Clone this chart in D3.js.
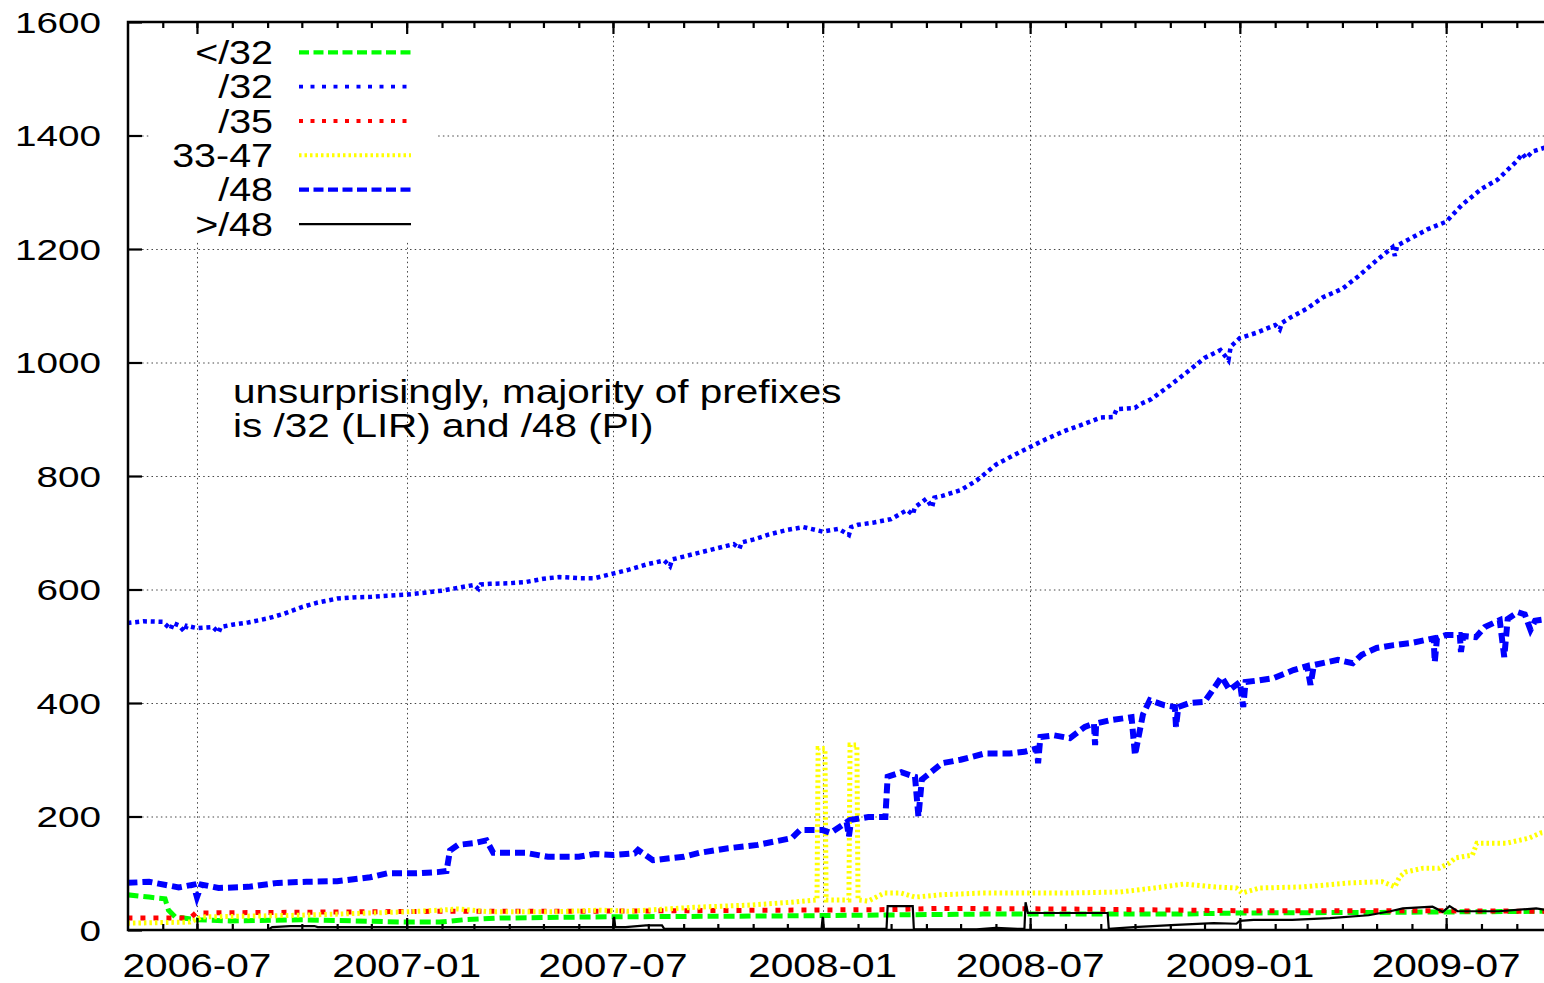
<!DOCTYPE html>
<html>
<head>
  <meta charset="UTF-8">
  <title>Prefix length counts</title>
  <script src="https://cdn.jsdelivr.net/npm/d3@7"></script>
  <style>
    body { margin: 0; background: #fff; }
    svg { display: block; }
    text { font-family: "Liberation Sans", Arial, sans-serif; fill: #000; }
  </style>
</head>
<body>
  <svg id="chart" width="1544" height="983"></svg>
  <script>
    // values, [date, count]
    const lessThan32 = [
      ['2006-05-01', 62], ['2006-05-20', 58], ['2006-06-03', 55], ['2006-06-06', 35], ['2006-06-12', 23],
      ['2006-07-01', 18], ['2006-07-30', 16], ['2006-09-30', 18], ['2007-01-01', 14], ['2007-01-30', 14],
      ['2007-02-20', 18], ['2007-03-24', 21], ['2007-06-10', 23], ['2007-12-10', 25], ['2008-05-20', 28],
      ['2008-11-06', 28], ['2009-01-01', 30], ['2009-05-01', 31], ['2009-09-28', 33]
    ];

    const prefix32 = [
      ['2006-05-01', 541], ['2006-05-15', 544], ['2006-06-01', 543], ['2006-06-08', 530], ['2006-06-10', 541],
      ['2006-06-15', 537], ['2006-06-20', 526], ['2006-06-22', 536], ['2006-07-01', 532], ['2006-07-15', 534],
      ['2006-07-20', 524], ['2006-07-22', 534], ['2006-08-01', 538], ['2006-08-15', 542], ['2006-09-01', 549],
      ['2006-09-15', 557], ['2006-10-01', 569], ['2006-10-15', 577], ['2006-11-01', 584], ['2006-11-15', 586],
      ['2006-12-01', 587], ['2006-12-15', 589], ['2007-01-01', 591], ['2007-01-15', 594], ['2007-02-01', 598],
      ['2007-02-15', 603], ['2007-03-01', 608], ['2007-03-05', 601], ['2007-03-07', 609], ['2007-03-15', 610],
      ['2007-04-01', 611], ['2007-04-15', 613], ['2007-05-01', 619], ['2007-05-15', 622], ['2007-06-01', 620],
      ['2007-06-15', 620], ['2007-07-01', 628], ['2007-07-15', 635], ['2007-08-01', 645], ['2007-08-15', 651],
      ['2007-08-20', 641], ['2007-08-22', 653], ['2007-09-01', 658], ['2007-09-15', 665], ['2007-10-01', 673],
      ['2007-10-15', 680], ['2007-10-20', 672], ['2007-10-22', 683], ['2007-11-01', 688], ['2007-11-15', 697],
      ['2007-12-01', 705], ['2007-12-15', 710], ['2008-01-01', 702], ['2008-01-15', 707], ['2008-01-24', 696],
      ['2008-01-26', 710], ['2008-02-01', 714], ['2008-02-15', 718], ['2008-03-01', 724], ['2008-03-15', 740],
      ['2008-03-20', 732], ['2008-03-22', 745], ['2008-04-01', 760], ['2008-04-06', 745], ['2008-04-08', 762],
      ['2008-04-15', 765], ['2008-05-01', 775], ['2008-05-15', 792], ['2008-06-01', 820], ['2008-06-15', 835],
      ['2008-07-01', 851], ['2008-07-15', 865], ['2008-08-01', 880], ['2008-08-15', 890], ['2008-09-01', 903],
      ['2008-09-12', 904], ['2008-09-15', 918], ['2008-10-01', 920], ['2008-10-05', 926], ['2008-10-15', 935],
      ['2008-11-01', 960], ['2008-11-15', 982], ['2008-12-01', 1008], ['2008-12-15', 1022], ['2008-12-22', 1004],
      ['2008-12-24', 1028], ['2009-01-01', 1043], ['2009-01-15', 1052], ['2009-02-01', 1066], ['2009-02-05', 1058],
      ['2009-02-07', 1070], ['2009-02-15', 1080], ['2009-03-01', 1095], ['2009-03-15', 1115], ['2009-04-01', 1130],
      ['2009-04-15', 1152], ['2009-05-01', 1180], ['2009-05-15', 1203], ['2009-05-17', 1188], ['2009-05-19', 1206],
      ['2009-06-01', 1220], ['2009-06-15', 1235], ['2009-07-01', 1248], ['2009-07-15', 1278], ['2009-08-01', 1306],
      ['2009-08-15', 1322], ['2009-09-01', 1355], ['2009-09-06', 1368], ['2009-09-09', 1360], ['2009-09-15', 1372],
      ['2009-09-28', 1380]
    ];

    const prefix35 = [
      ['2006-05-01', 21], ['2006-06-25', 21], ['2006-06-30', 30], ['2007-01-30', 33], ['2007-06-01', 33],
      ['2008-03-01', 36], ['2008-04-10', 38], ['2008-08-01', 37], ['2009-01-01', 34], ['2009-06-01', 34],
      ['2009-09-28', 33]
    ];

    const between33and47 = [
      ['2006-05-01', 12], ['2006-06-25', 14], ['2006-07-05', 23], ['2006-09-30', 26], ['2007-01-01', 32],
      ['2007-01-30', 35], ['2007-02-15', 37], ['2007-03-15', 32], ['2007-05-10', 32], ['2007-06-20', 35],
      ['2007-07-15', 33], ['2007-08-25', 38], ['2007-09-10', 40], ['2007-10-30', 44], ['2007-12-05', 49],
      ['2007-12-27', 53], ['2007-12-28', 320], ['2008-01-03', 320], ['2008-01-04', 53], ['2008-01-24', 53],
      ['2008-01-25', 326], ['2008-01-31', 326], ['2008-02-01', 53], ['2008-02-10', 51], ['2008-02-24', 65],
      ['2008-03-10', 65], ['2008-03-22', 58], ['2008-04-13', 62], ['2008-05-18', 65], ['2008-07-30', 65],
      ['2008-09-18', 67], ['2008-10-18', 74], ['2008-11-13', 81], ['2008-12-09', 76], ['2008-12-29', 74],
      ['2009-01-03', 65], ['2009-01-18', 74], ['2009-02-26', 76], ['2009-04-07', 83], ['2009-05-06', 85],
      ['2009-05-17', 76], ['2009-05-21', 93], ['2009-05-26', 102], ['2009-06-11', 109], ['2009-06-25', 109],
      ['2009-07-04', 118], ['2009-07-09', 127], ['2009-07-24', 132], ['2009-07-28', 153], ['2009-08-23', 153],
      ['2009-09-12', 162], ['2009-09-22', 171], ['2009-09-28', 173]
    ];

    const prefix48 = [
      ['2006-05-01', 83], ['2006-05-20', 85], ['2006-06-15', 75], ['2006-06-28', 80], ['2006-07-01', 58],
      ['2006-07-05', 80], ['2006-07-20', 74], ['2006-08-15', 76], ['2006-09-10', 83], ['2006-10-05', 85],
      ['2006-11-01', 86], ['2006-11-30', 93], ['2006-12-15', 100], ['2007-01-10', 100], ['2007-01-28', 102],
      ['2007-02-05', 104], ['2007-02-08', 140], ['2007-02-15', 150], ['2007-03-01', 153], ['2007-03-12', 158],
      ['2007-03-18', 136], ['2007-04-15', 136], ['2007-05-05', 129], ['2007-06-01', 129], ['2007-06-15', 134],
      ['2007-07-01', 132], ['2007-07-20', 135], ['2007-07-23', 141], ['2007-08-05', 123], ['2007-09-01', 129],
      ['2007-09-15', 136], ['2007-10-10', 144], ['2007-11-05', 150], ['2007-12-05', 162], ['2007-12-12', 176],
      ['2008-01-01', 176], ['2008-01-08', 171], ['2008-01-22', 190], ['2008-01-24', 165], ['2008-01-26', 194],
      ['2008-02-10', 199], ['2008-02-25', 199], ['2008-02-27', 270], ['2008-03-10', 278], ['2008-03-22', 270],
      ['2008-03-25', 200], ['2008-03-28', 265], ['2008-03-31', 270], ['2008-04-15', 294], ['2008-05-01', 300],
      ['2008-05-22', 311], ['2008-06-13', 311], ['2008-06-26', 314], ['2008-07-07', 320], ['2008-07-08', 294],
      ['2008-07-10', 340], ['2008-07-22', 343], ['2008-08-05', 338], ['2008-08-18', 358], ['2008-08-26', 364],
      ['2008-08-27', 326], ['2008-08-28', 364], ['2008-09-10', 370], ['2008-09-28', 375], ['2008-10-01', 308],
      ['2008-10-08', 380], ['2008-10-14', 405], ['2008-10-27', 396], ['2008-11-05', 393], ['2008-11-06', 358],
      ['2008-11-08', 393], ['2008-11-18', 400], ['2008-12-01', 402], ['2008-12-10', 428], ['2008-12-16', 446],
      ['2008-12-23', 423], ['2009-01-01', 437], ['2009-01-04', 393], ['2009-01-06', 437], ['2009-01-18', 440],
      ['2009-01-31', 444], ['2009-02-17', 458], ['2009-03-01', 465], ['2009-03-04', 432], ['2009-03-07', 467],
      ['2009-03-28', 476], ['2009-04-10', 470], ['2009-04-18', 485], ['2009-05-01', 497], ['2009-05-16', 502],
      ['2009-06-01', 506], ['2009-06-20', 514], ['2009-06-21', 472], ['2009-06-23', 514], ['2009-07-01', 520],
      ['2009-07-13', 520], ['2009-07-14', 490], ['2009-07-16', 518], ['2009-07-27', 516], ['2009-08-04', 534],
      ['2009-08-17', 546], ['2009-08-21', 481], ['2009-08-24', 548], ['2009-09-02', 560], ['2009-09-08', 556],
      ['2009-09-13', 529], ['2009-09-17', 545], ['2009-09-28', 548]
    ];

    const moreThan48 = [
      ['2006-05-01', 0], ['2006-09-01', 0], ['2006-09-05', 5], ['2006-09-21', 7], ['2006-10-12', 7],
      ['2006-10-15', 5], ['2007-07-01', 5], ['2007-07-02', 23], ['2007-07-03', 5], ['2007-07-12', 5],
      ['2007-07-30', 8], ['2007-08-13', 8], ['2007-08-15', 2], ['2007-12-31', 2], ['2008-01-01', 23],
      ['2008-01-02', 2], ['2008-02-26', 2], ['2008-02-27', 42], ['2008-03-20', 42], ['2008-03-21', 1],
      ['2008-05-15', 1], ['2008-06-01', 4], ['2008-06-20', 2], ['2008-06-26', 2], ['2008-06-27', 49],
      ['2008-06-29', 30], ['2008-09-07', 30], ['2008-09-08', 2], ['2008-09-30', 5], ['2008-11-06', 9],
      ['2008-12-09', 12], ['2008-12-29', 11], ['2009-01-01', 16], ['2009-01-13', 18], ['2009-02-16', 18],
      ['2009-03-21', 21], ['2009-04-24', 26], ['2009-05-13', 33], ['2009-05-24', 38], ['2009-06-19', 41],
      ['2009-06-28', 32], ['2009-07-04', 42], ['2009-07-11', 33], ['2009-08-16', 33], ['2009-09-18', 38],
      ['2009-09-28', 35]
    ];

    const seriesNames = ['</32', '/32', '/35', '33-47', '/48', '>/48'];
    const seriesData = [lessThan32, prefix32, prefix35, between33and47, prefix48, moreThan48];
    const yTicks = [0, 200, 400, 600, 800, 1000, 1200, 1400, 1600];
    const xTickDates = ['2006-07-01', '2007-01-01', '2007-07-01', '2008-01-01', '2008-07-01', '2009-01-01', '2009-07-01'];
    const noteLines = ['unsurprisingly, majority of prefixes', 'is /32 (LIR) and /48 (PI)'];

    // gnuplot-ish line styles, same order as the series; the key samples are a bit thinner
    const styles = [
      {color: '#00ff00', width: 5,   dash: '11,5',    keyWidth: 4.3, keyDash: '10,4.5'},
      {color: '#0000ff', width: 4.5, dash: '4,3.8',   keyWidth: 3.8, keyDash: '4,7.5'},
      {color: '#ff0000', width: 5,   dash: '5,8',     keyWidth: 3.8, keyDash: '4,7.5'},
      {color: '#ffff00', width: 5,   dash: '2.5,3',   keyWidth: 4,   keyDash: '2.5,3'},
      {color: '#0000ff', width: 6,   dash: '10,5',    keyWidth: 4.3, keyDash: '10,4.5'},
      {color: '#000000', width: 2.2, dash: null,      keyWidth: 2.2, keyDash: null}
    ];

    const parse = d3.utcParse('%Y-%m-%d');
    const plotLeft = 128, plotRight = 1551, plotTop = 22, plotBottom = 930;

    const x = d3.scaleUtc()
      .domain([new Date(Date.UTC(2006, 4, 1, 12)), new Date(Date.UTC(2009, 9, 1))])
      .range([plotLeft, plotRight]);
    const y = d3.scaleLinear().domain([0, 1600]).range([plotBottom, plotTop]);

    const svg = d3.select('#chart');

    // text in the original is wider than the font's own shape, hence the x stretch
    function label(g, str, px, py, size, sx, anchor)
    {
      return g.append('text')
        .attr('transform', `translate(${px},${py}) scale(${sx},1)`)
        .attr('text-anchor', anchor)
        .style('font-size', size + 'px')
        .text(str);
    }

    // grid
    const grid = svg.append('g')
      .attr('stroke', '#444')
      .attr('stroke-width', 1)
      .attr('stroke-dasharray', '1.5,3.2');
    grid.selectAll('.hgrid').data(yTicks.filter(v => v > 0 && v < 1600)).enter().append('line')
      .attr('x1', plotLeft).attr('x2', plotRight)
      .attr('y1', d => y(d) + 0.5).attr('y2', d => y(d) + 0.5);
    grid.selectAll('.vgrid').data(xTickDates).enter().append('line')
      .attr('x1', d => Math.round(x(parse(d))) + 0.5).attr('x2', d => Math.round(x(parse(d))) + 0.5)
      .attr('y1', plotTop).attr('y2', plotBottom);

    // key box is opaque in the original
    svg.append('rect')
      .attr('x', 150).attr('y', 30).attr('width', 286).attr('height', 210)
      .attr('fill', '#fff');

    // data
    svg.append('clipPath').attr('id', 'plot')
      .append('rect').attr('x', plotLeft).attr('y', plotTop)
      .attr('width', plotRight - plotLeft).attr('height', plotBottom - plotTop);

    const line = d3.line()
      .x(d => x(parse(d[0])))
      .y(d => y(d[1]));

    const lines = svg.append('g').attr('clip-path', 'url(#plot)');
    seriesData.forEach((data, i) =>
    {
      lines.append('path')
        .datum(data)
        .attr('d', line)
        .attr('fill', 'none')
        .attr('stroke', styles[i].color)
        .attr('stroke-width', styles[i].width)
        .attr('stroke-dasharray', styles[i].dash)
        .attr('stroke-linejoin', 'miter');
    });

    // ticks, all pointing inwards
    const monthTicks = d3.utcMonth.range(new Date(Date.UTC(2006, 4, 1)), new Date(Date.UTC(2009, 10, 1)))
      .filter(d => x(d) >= plotLeft);
    const majorTicks = xTickDates.map(parse);

    svg.append('g').attr('transform', `translate(0,${plotBottom})`)
      .call(d3.axisBottom(x).tickValues(monthTicks).tickSize(-6).tickFormat(''));
    svg.append('g').attr('transform', `translate(0,${plotBottom})`)
      .call(d3.axisBottom(x).tickValues(majorTicks).tickSize(-12).tickFormat(''));
    svg.append('g').attr('transform', `translate(0,${plotTop})`)
      .call(d3.axisTop(x).tickValues(monthTicks).tickSize(-6).tickFormat(''));
    svg.append('g').attr('transform', `translate(0,${plotTop})`)
      .call(d3.axisTop(x).tickValues(majorTicks).tickSize(-12).tickFormat(''));
    svg.append('g').attr('transform', `translate(${plotLeft},0)`)
      .call(d3.axisLeft(y).tickValues(yTicks).tickSize(-14).tickFormat(''));

    svg.selectAll('.domain').remove();
    svg.selectAll('.tick line').attr('stroke', '#000').attr('stroke-width', 2.2);

    // border
    svg.append('rect')
      .attr('x', plotLeft).attr('y', plotTop)
      .attr('width', plotRight - plotLeft).attr('height', plotBottom - plotTop)
      .attr('fill', 'none').attr('stroke', '#000').attr('stroke-width', 2.5);

    // tick labels
    const labels = svg.append('g');
    yTicks.forEach(v => label(labels, v, 101, y(v) + 10.8, 30, 1.29, 'end'));
    const fmt = d3.utcFormat('%Y-%m');
    xTickDates.forEach(d => label(labels, fmt(parse(d)), x(parse(d)), 977, 33, 1.23, 'middle'));

    // key
    const key = svg.append('g');
    seriesNames.forEach((name, i) =>
    {
      const ky = 52.3 + i * 34.35;
      label(key, name, 273, ky + 11.6, 32.6, 1.21, 'end');
      key.append('line')
        .attr('x1', 299).attr('x2', 411)
        .attr('y1', ky).attr('y2', ky)
        .attr('stroke', styles[i].color)
        .attr('stroke-width', styles[i].keyWidth)
        .attr('stroke-dasharray', styles[i].keyDash);
    });

    // note: one text block, two lines set tight like the original
    const note = label(svg, null, 233, 403, 34, 1.19, 'start');
    note.selectAll('tspan').data(noteLines).enter().append('tspan')
      .attr('x', 0)
      .attr('dy', (d, i) => i === 0 ? 0 : 34)
      .text(d => d);
  </script>
</body>
</html>
